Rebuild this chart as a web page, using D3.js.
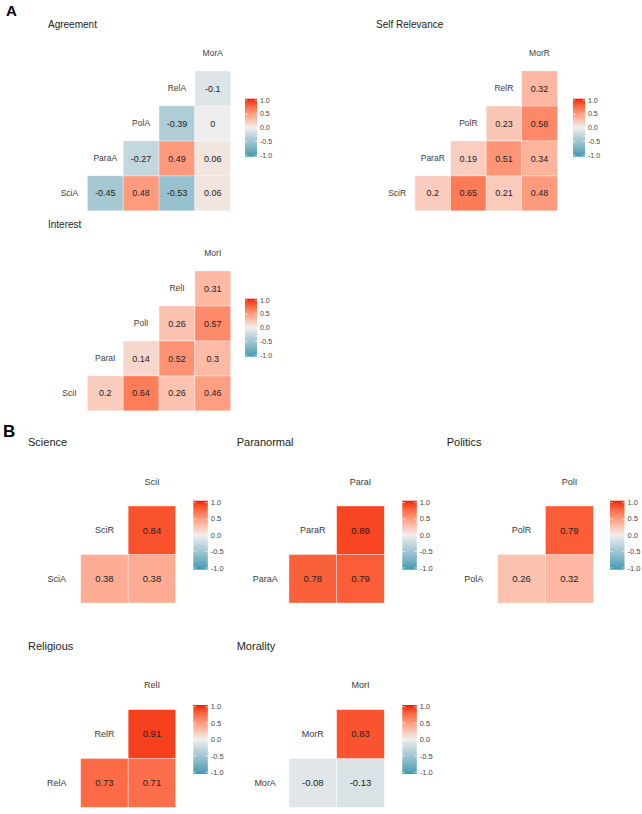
<!DOCTYPE html>
<html>
<head>
<meta charset="utf-8">
<script src="https://cdn.jsdelivr.net/npm/d3@7"></script>
<style>
  html, body { margin: 0; padding: 0; background: #fff; }
  text { font-family: "Liberation Sans", Arial, sans-serif; }
</style>
</head>
<body>
<svg id="chart" width="642" height="814"></svg>
<script>
// ---------- DATA ----------
const agreementVars = ["SciA", "ParaA", "PolA", "RelA", "MorA"];
const agreementCors = [[-0.45, 0.48, -0.53, 0.06], [-0.27, 0.49, 0.06], [-0.39, 0], [-0.1]];

const relevanceVars = ["SciR", "ParaR", "PolR", "RelR", "MorR"];
const relevanceCors = [[0.2, 0.65, 0.21, 0.48], [0.19, 0.51, 0.34], [0.23, 0.58], [0.32]];

const interestVars = ["SciI", "ParaI", "PolI", "RelI", "MorI"];
const interestCors = [[0.2, 0.64, 0.26, 0.46], [0.14, 0.52, 0.3], [0.26, 0.57], [0.31]];

const scienceVars = ["SciA", "SciR", "SciI"];
const scienceCors = [[0.38, 0.38], [0.84]];

const paranormalVars = ["ParaA", "ParaR", "ParaI"];
const paranormalCors = [[0.78, 0.79], [0.89]];

const politicsVars = ["PolA", "PolR", "PolI"];
const politicsCors = [[0.26, 0.32], [0.79]];

const religiousVars = ["RelA", "RelR", "RelI"];
const religiousCors = [[0.73, 0.71], [0.91]];

const moralityVars = ["MorA", "MorR", "MorI"];
const moralityCors = [[-0.08, -0.13], [0.83]];

const legendTicks = [1.0, 0.5, 0.0, -0.5, -1.0];

// ---------- DRAWING ----------
const svg = d3.select("#chart");
const color = d3.scaleLinear()
  .domain([-1, 0, 1])
  .range(["#3B9AB2", "#EEEEEE", "#F21A00"])
  .interpolate(d3.interpolateLab);

const defs = svg.append("defs");
const grad = defs.append("linearGradient").attr("id", "lg")
  .attr("x1", 0).attr("x2", 0).attr("y1", 1).attr("y2", 0);
d3.range(0, 1.0001, 0.05).forEach(t => {
  grad.append("stop").attr("offset", t).attr("stop-color", color(-1 + 2 * t));
});

function fmt(v) {
  return String(+v.toFixed(2));
}

function drawPanel(cfg) {
  const { vars, cors, title, titleX, titleY, x0, x1, y0, y1, leg, big } = cfg;
  const n = vars.length;
  const g = svg.append("g");
  const x = d3.scaleBand().domain(d3.range(n)).range([x0, x1]).padding(0);
  const y = d3.scaleBand().domain(d3.range(n).reverse()).range([y0, y1]).padding(0);

  g.append("text").attr("x", titleX).attr("y", titleY)
    .attr("font-size", big ? 11 : 10).attr("fill", "#222").text(title);

  const cells = [];
  cors.forEach((row, i) => row.forEach((v, k) => cells.push({ i, j: i + 1 + k, v })));

  g.selectAll("rect.cell").data(cells).enter().append("rect")
    .attr("class", "cell")
    .attr("x", d => x(d.j)).attr("y", d => y(d.i))
    .attr("width", x.bandwidth()).attr("height", y.bandwidth())
    .attr("fill", d => color(d.v))
    .attr("stroke", "rgba(255,255,255,0.6)").attr("stroke-width", 0.6);

  g.selectAll("text.val").data(cells).enter().append("text")
    .attr("x", d => x(d.j) + x.bandwidth() / 2)
    .attr("y", d => y(d.i) + y.bandwidth() / 2)
    .attr("dy", "0.35em").attr("text-anchor", "middle")
    .attr("font-size", big ? 9.5 : 9).attr("fill", "#222")
    .text(d => fmt(d.v));

  g.selectAll("text.diag").data(vars).enter().append("text")
    .attr("x", (d, k) => x(k) + x.bandwidth() / 2)
    .attr("y", (d, k) => y(k) + y.bandwidth() / 2)
    .attr("dy", "0.35em").attr("text-anchor", "middle")
    .attr("font-size", big ? 9 : 8.5).attr("fill", "#3a3a3a")
    .text(d => d);

  const lg = g.append("g");
  lg.append("rect").attr("x", leg.x).attr("y", leg.y)
    .attr("width", leg.w).attr("height", leg.h).attr("fill", "url(#lg)");
  const pad = leg.h * 0.025;
  const ly = d3.scaleLinear().domain([-1, 1]).range([leg.y + leg.h - pad, leg.y + pad]);
  legendTicks.forEach(t => {
    lg.append("line").attr("x1", leg.x).attr("x2", leg.x + leg.w * 0.2)
      .attr("y1", ly(t)).attr("y2", ly(t)).attr("stroke", "#fff").attr("stroke-width", 0.6);
    lg.append("line").attr("x1", leg.x + leg.w * 0.8).attr("x2", leg.x + leg.w)
      .attr("y1", ly(t)).attr("y2", ly(t)).attr("stroke", "#fff").attr("stroke-width", 0.6);
  });
  lg.selectAll("text").data(legendTicks).enter().append("text")
    .attr("x", leg.x + leg.w + 3).attr("y", d => ly(d)).attr("dy", "0.35em")
    .attr("font-size", big ? 7.5 : 7).attr("fill", "#444")
    .text(d => d.toFixed(1));
}

svg.append("text").attr("x", 6).attr("y", 16).attr("font-size", 15)
  .attr("font-weight", "bold").attr("fill", "#000").text("A");
svg.append("text").attr("x", 3).attr("y", 437).attr("font-size", 17)
  .attr("font-weight", "bold").attr("fill", "#000").text("B");

// Panel A
drawPanel({ vars: agreementVars, cors: agreementCors, title: "Agreement", titleX: 48, titleY: 28,
  x0: 51.5, x1: 230.7, y0: 36, y1: 210.8, leg: { x: 245, y: 98.7, w: 12, h: 58 } });
drawPanel({ vars: relevanceVars, cors: relevanceCors, title: "Self Relevance", titleX: 376, titleY: 28,
  x0: 379.4, x1: 557.3, y0: 36, y1: 210.8, leg: { x: 573, y: 98.7, w: 12, h: 58 } });
drawPanel({ vars: interestVars, cors: interestCors, title: "Interest", titleX: 48, titleY: 228,
  x0: 51.5, x1: 230.7, y0: 236, y1: 410.8, leg: { x: 245, y: 298.7, w: 12, h: 58 } });

// Panel B
drawPanel({ vars: scienceVars, cors: scienceCors, title: "Science", titleX: 28, titleY: 446, big: true,
  x0: 33.1, x1: 175.7, y0: 457.5, y1: 603, leg: { x: 193.3, y: 500.7, w: 14.5, h: 69 } });
drawPanel({ vars: paranormalVars, cors: paranormalCors, title: "Paranormal", titleX: 236.7, titleY: 446, big: true,
  x0: 241.3, x1: 384.3, y0: 457.5, y1: 603, leg: { x: 402.3, y: 500.7, w: 14.5, h: 69 } });
drawPanel({ vars: politicsVars, cors: politicsCors, title: "Politics", titleX: 446.7, titleY: 446, big: true,
  x0: 449.8, x1: 593.3, y0: 457.5, y1: 603, leg: { x: 610, y: 500.7, w: 14.5, h: 69 } });
drawPanel({ vars: religiousVars, cors: religiousCors, title: "Religious", titleX: 28, titleY: 649.5, big: true,
  x0: 33.1, x1: 175.7, y0: 660.8, y1: 807.3, leg: { x: 193.3, y: 705, w: 14.5, h: 69 } });
drawPanel({ vars: moralityVars, cors: moralityCors, title: "Morality", titleX: 236.7, titleY: 649.5, big: true,
  x0: 241.3, x1: 384.3, y0: 660.8, y1: 807.3, leg: { x: 402.3, y: 705, w: 14.5, h: 69 } });
</script>
</body>
</html>
